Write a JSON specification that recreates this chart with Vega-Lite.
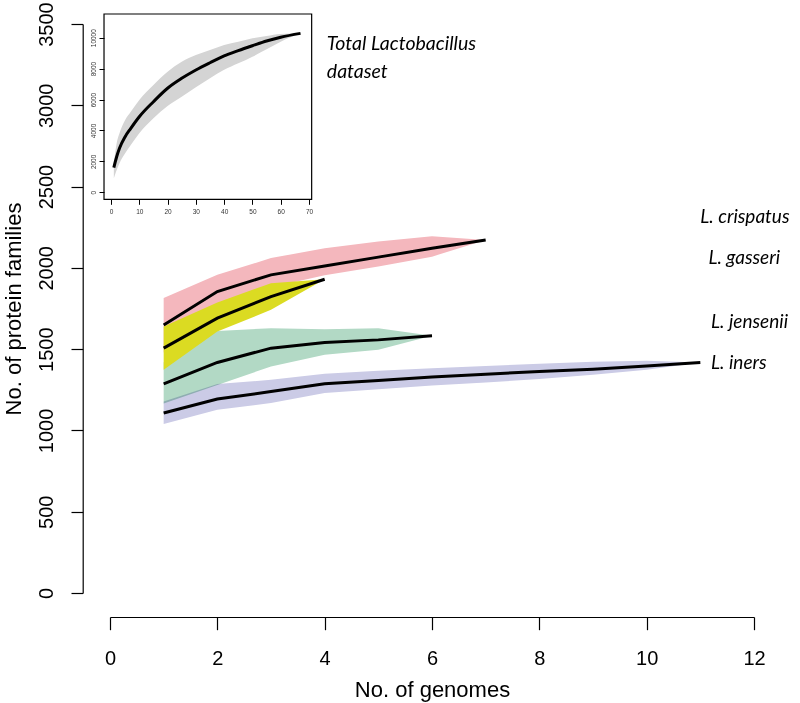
{
  "$schema": "https://vega.github.io/schema/vega-lite/v6.json",
  "width": 644,
  "height": 569,
  "autosize": {"type": "none"},
  "padding": {"left": 110, "top": 24, "right": 46, "bottom": 110},
  "background": "#ffffff",
  "config": {"view": {"stroke": null}, "font": "Liberation Sans"},
  "datasets": {
    "pan": [
      {"sp": "crispatus", "x": 1, "mean": 1649, "lo": 1480, "hi": 1814},
      {"sp": "crispatus", "x": 2, "mean": 1854, "lo": 1720, "hi": 1957},
      {"sp": "crispatus", "x": 3, "mean": 1957, "lo": 1880, "hi": 2060},
      {"sp": "crispatus", "x": 4, "mean": 2012, "lo": 1955, "hi": 2121},
      {"sp": "crispatus", "x": 5, "mean": 2066, "lo": 2008, "hi": 2162},
      {"sp": "crispatus", "x": 6, "mean": 2121, "lo": 2069, "hi": 2195},
      {"sp": "crispatus", "x": 7, "mean": 2172, "lo": 2172, "hi": 2172},
      {"sp": "gasseri", "x": 1, "mean": 1506, "lo": 1373, "hi": 1640},
      {"sp": "gasseri", "x": 2, "mean": 1691, "lo": 1608, "hi": 1787},
      {"sp": "gasseri", "x": 3, "mean": 1823, "lo": 1742, "hi": 1906},
      {"sp": "gasseri", "x": 4, "mean": 1930, "lo": 1930, "hi": 1930},
      {"sp": "jensenii", "x": 1, "mean": 1287, "lo": 1165, "hi": 1420},
      {"sp": "jensenii", "x": 2, "mean": 1418, "lo": 1280, "hi": 1612},
      {"sp": "jensenii", "x": 3, "mean": 1506, "lo": 1393, "hi": 1629},
      {"sp": "jensenii", "x": 4, "mean": 1541, "lo": 1465, "hi": 1623},
      {"sp": "jensenii", "x": 5, "mean": 1557, "lo": 1496, "hi": 1629},
      {"sp": "jensenii", "x": 6, "mean": 1582, "lo": 1582, "hi": 1582},
      {"sp": "iners", "x": 1, "mean": 1107, "lo": 1039, "hi": 1178},
      {"sp": "iners", "x": 2, "mean": 1193, "lo": 1127, "hi": 1285},
      {"sp": "iners", "x": 3, "mean": 1239, "lo": 1168, "hi": 1311},
      {"sp": "iners", "x": 4, "mean": 1287, "lo": 1230, "hi": 1348},
      {"sp": "iners", "x": 5, "mean": 1307, "lo": 1254, "hi": 1367},
      {"sp": "iners", "x": 6, "mean": 1328, "lo": 1276, "hi": 1383},
      {"sp": "iners", "x": 7, "mean": 1346, "lo": 1295, "hi": 1397},
      {"sp": "iners", "x": 8, "mean": 1362, "lo": 1316, "hi": 1410},
      {"sp": "iners", "x": 9, "mean": 1377, "lo": 1342, "hi": 1422},
      {"sp": "iners", "x": 10, "mean": 1397, "lo": 1373, "hi": 1428},
      {"sp": "iners", "x": 11, "mean": 1418, "lo": 1418, "hi": 1418}
    ],
    "total": [
      {"x": 1, "mean": 1600, "lo": 905, "hi": 1875},
      {"x": 2, "mean": 2300, "lo": 1440, "hi": 3170},
      {"x": 3, "mean": 2850, "lo": 1875, "hi": 3820},
      {"x": 5, "mean": 3600, "lo": 2520, "hi": 4680},
      {"x": 7, "mean": 4140, "lo": 3060, "hi": 5210},
      {"x": 10, "mean": 4890, "lo": 3820, "hi": 5970},
      {"x": 15, "mean": 5860, "lo": 4790, "hi": 6940},
      {"x": 20, "mean": 6730, "lo": 5580, "hi": 7800},
      {"x": 25, "mean": 7370, "lo": 6180, "hi": 8450},
      {"x": 30, "mean": 7910, "lo": 6790, "hi": 8880},
      {"x": 35, "mean": 8380, "lo": 7370, "hi": 9200},
      {"x": 40, "mean": 8820, "lo": 7920, "hi": 9530},
      {"x": 45, "mean": 9160, "lo": 8340, "hi": 9740},
      {"x": 50, "mean": 9480, "lo": 8770, "hi": 9960},
      {"x": 55, "mean": 9790, "lo": 9250, "hi": 10110},
      {"x": 60, "mean": 10030, "lo": 9740, "hi": 10240},
      {"x": 67, "mean": 10280, "lo": 10280, "hi": 10280}
    ],
    "labels": [
      {"text": "L. crispatus", "x": 11.0, "y": 2278},
      {"text": "L. gasseri", "x": 11.15, "y": 2024},
      {"text": "L. jensenii", "x": 11.2, "y": 1629},
      {"text": "L. iners", "x": 11.2, "y": 1377}
    ],
    "insettitle": [
      {"text": "Total Lactobacillus", "x": 4.04, "y": 3340},
      {"text": "dataset", "x": 4.04, "y": 3166}
    ]
  },
  "layer": [
    {
      "data": {"name": "pan"},
      "layer": [
        {
          "transform": [{"filter": "datum.sp === 'crispatus'"}],
          "mark": {"type": "area", "color": "#F4B7BD", "opacity": 1},
          "encoding": {
            "x": {
              "field": "x", "type": "quantitative",
              "scale": {"domain": [0, 12], "nice": false, "zero": false},
              "axis": {
                "title": "No. of genomes", "values": [0, 2, 4, 6, 8, 10, 12], "format": "d",
                "grid": false, "offset": 24,
                "domainColor": "#000", "domainWidth": 1.2,
                "tickColor": "#000", "tickWidth": 1.2, "tickSize": 12.7,
                "labelFont": "Liberation Sans", "labelFontSize": 20, "labelColor": "#000",
                "labelPadding": 19, "labelFlush": false, "labelOverlap": false, "labelBaseline": "top",
                "titleFont": "Liberation Sans", "titleFontSize": 22, "titleFontWeight": "normal",
                "titleColor": "#000", "titleBaseline": "alphabetic", "titleY": 79.7, "titleX": 322
              }
            },
            "y": {
              "field": "lo", "type": "quantitative",
              "scale": {"domain": [0, 3500], "nice": false, "zero": false},
              "axis": {
                "title": "No. of protein families",
                "values": [0, 500, 1000, 1500, 2000, 2500, 3000, 3500], "format": "d",
                "grid": false, "offset": 27.3,
                "domainColor": "#000", "domainWidth": 1.2,
                "tickColor": "#000", "tickWidth": 1.2, "tickSize": 11.7,
                "labelFont": "Liberation Sans", "labelFontSize": 20, "labelColor": "#000",
                "labelAngle": -90, "labelAlign": "center", "labelBaseline": "alphabetic",
                "labelPadding": 18, "labelFlush": false, "labelOverlap": false,
                "titleFont": "Liberation Sans", "titleFontSize": 22, "titleFontWeight": "normal",
                "titleColor": "#000", "titleAngle": -90, "titleBaseline": "alphabetic",
                "titleAlign": "center", "titleX": -62, "titleY": 284.5
              }
            },
            "y2": {"field": "hi"}
          }
        },
        {
          "transform": [{"filter": "datum.sp === 'iners'"}],
          "mark": {"type": "area", "color": "#CBCBE6", "opacity": 1},
          "encoding": {
            "x": {"field": "x", "type": "quantitative"},
            "y": {"field": "lo", "type": "quantitative"},
            "y2": {"field": "hi"}
          }
        },
        {
          "transform": [{"filter": "datum.sp === 'jensenii'"}],
          "mark": {"type": "area", "color": "#B2D9C5", "opacity": 1, "blend": "multiply"},
          "encoding": {
            "x": {"field": "x", "type": "quantitative"},
            "y": {"field": "lo", "type": "quantitative"},
            "y2": {"field": "hi"}
          }
        },
        {
          "transform": [{"filter": "datum.sp === 'gasseri'"}],
          "mark": {"type": "area", "color": "#DBDB22", "opacity": 1},
          "encoding": {
            "x": {"field": "x", "type": "quantitative"},
            "y": {"field": "lo", "type": "quantitative"},
            "y2": {"field": "hi"}
          }
        },
        {
          "mark": {"type": "line", "color": "#000", "strokeWidth": 3, "strokeCap": "butt"},
          "encoding": {
            "x": {"field": "x", "type": "quantitative"},
            "y": {"field": "mean", "type": "quantitative"},
            "detail": {"field": "sp"}
          }
        },
        {
          "data": {"name": "labels"},
          "mark": {"type": "text", "font": "Lato", "fontStyle": "italic", "fontSize": 19, "align": "left", "baseline": "alphabetic", "color": "#000"},
          "encoding": {
            "x": {"field": "x", "type": "quantitative"},
            "y": {"field": "y", "type": "quantitative"},
            "text": {"field": "text"}
          }
        },
        {
          "data": {"name": "insettitle"},
          "mark": {"type": "text", "font": "Lato", "fontStyle": "italic", "fontSize": 19.5, "align": "left", "baseline": "alphabetic", "color": "#000"},
          "encoding": {
            "x": {"field": "x", "type": "quantitative"},
            "y": {"field": "y", "type": "quantitative"},
            "text": {"field": "text"}
          }
        }
      ]
    },
    {
      "data": {"name": "total"},
      "layer": [
        {
          "mark": {"type": "area", "color": "#D4D4D4", "interpolate": "monotone"},
          "encoding": {
            "x": {
              "field": "x", "type": "quantitative",
              "scale": {"domain": [0, 70], "range": [1, 199], "nice": false, "zero": false},
              "axis": {
                "orient": "bottom", "offset": -393.7, "title": null,
                "values": [0, 10, 20, 30, 40, 50, 60, 70], "format": "d",
                "domain": false, "grid": false,
                "tickColor": "#000", "tickWidth": 1, "tickSize": 5,
                "labelFont": "Liberation Sans", "labelFontSize": 6.5, "labelColor": "#333",
                "labelPadding": 4, "labelFlush": false, "labelOverlap": false
              }
            },
            "y": {
              "field": "lo", "type": "quantitative",
              "scale": {"domain": [0, 10000], "range": [168.3, 13.7], "nice": false, "zero": false},
              "axis": {
                "orient": "left", "offset": 6, "title": null,
                "values": [0, 2000, 4000, 6000, 8000, 10000], "format": "d",
                "domain": false, "grid": false,
                "tickColor": "#000", "tickWidth": 1, "tickSize": 5,
                "labelFont": "Liberation Sans", "labelFontSize": 6.5, "labelColor": "#333",
                "labelAngle": -90, "labelAlign": "center", "labelBaseline": "alphabetic",
                "labelPadding": 3.4, "labelFlush": false, "labelOverlap": false
              }
            },
            "y2": {"field": "hi"}
          }
        },
        {
          "mark": {"type": "line", "color": "#000", "strokeWidth": 3, "interpolate": "monotone", "strokeCap": "butt"},
          "encoding": {
            "x": {"field": "x", "type": "quantitative"},
            "y": {"field": "mean", "type": "quantitative"}
          }
        },
        {
          "data": {"values": [{}]},
          "mark": {"type": "rect", "fill": "transparent", "stroke": "#000", "strokeWidth": 1.2},
          "encoding": {
            "x": {"datum": -2.47, "type": "quantitative"},
            "x2": {"datum": 70.94},
            "y": {"datum": -453, "type": "quantitative"},
            "y2": {"datum": 11533}
          }
        }
      ]
    }
  ],
  "resolve": {"scale": {"x": "independent", "y": "independent"}}
}
